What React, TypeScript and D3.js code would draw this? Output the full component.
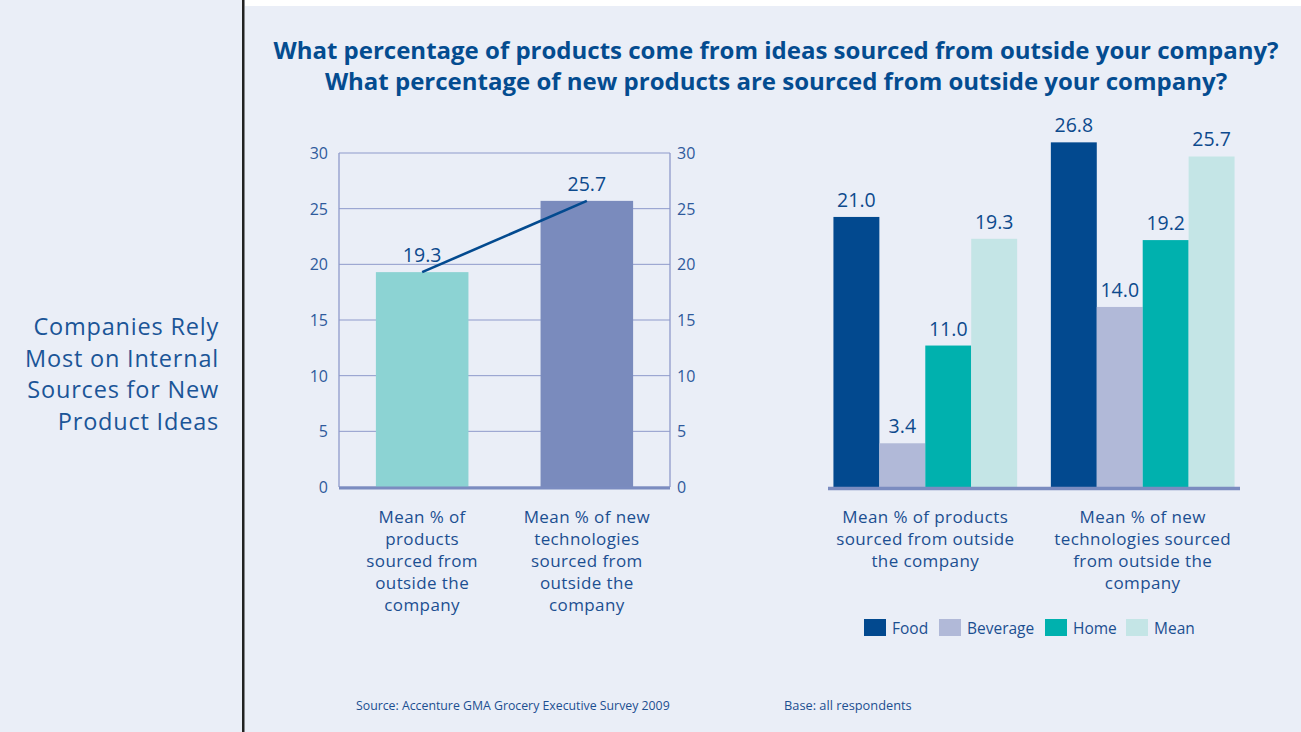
import React from "react";
import * as d3 from "d3";

const leftCategories = [
  ["Mean % of", "products", "sourced from", "outside the", "company"],
  ["Mean % of new", "technologies", "sourced from", "outside the", "company"],
];
const leftValues = [19.3, 25.7];
const leftColors = ["#8cd3d3", "#7a8bbd"];
const leftTicks = [0, 5, 10, 15, 20, 25, 30];

const rightGroups = [
  ["Mean % of products", "sourced from outside", "the company"],
  ["Mean % of new", "technologies sourced", "from outside the", "company"],
];
const seriesNames = ["Food", "Beverage", "Home", "Mean"];
const seriesColors = ["#02498f", "#b1b9d8", "#00b1ae", "#c4e5e6"];
const foodValues = [21.0, 26.8];
const beverageValues = [3.4, 14.0];
const homeValues = [11.0, 19.2];
const meanValues = [19.3, 25.7];

const titleLines = [
  "What percentage of products come from ideas sourced from outside your company?",
  "What percentage of new products are sourced from outside your company?",
];
const sideLines = ["Companies Rely", "Most on Internal", "Sources for New", "Product Ideas"];

const FONT = "'Open Sans', 'Noto Sans', sans-serif";

export default function App() {
  const W = 1301, H = 732;
  // left chart
  const lx0 = 339, lx1 = 670, ly0 = 487, ly1 = 153;
  const yL = d3.scaleLinear().domain([0, 30]).range([ly0, ly1]);
  const xL = d3.scaleBand<number>().domain([0, 1]).range([lx0, lx1]).paddingInner(0.438).paddingOuter(0.224);

  // right chart
  const rx0 = 828, rx1 = 1240, ry0 = 487;
  const yR = d3.scaleLinear().domain([0, 30]).range([ry0, ry0 - 30 * 12.86]);
  const xR = d3.scaleBand<number>().domain([0, 1]).range([rx0, rx1]).paddingInner(0.155).paddingOuter(0.025);
  const xS = d3.scaleBand<number>().domain([0, 1, 2, 3]).range([0, xR.bandwidth()]).padding(0);
  const seriesValues = [foodValues, beverageValues, homeValues, meanValues];

  const linePath = d3
    .line<number>()
    .x((_, i) => (xL(i) as number) + xL.bandwidth() / 2)
    .y((v) => yL(v))(leftValues);

  const legendX = [864, 939, 1045, 1126];

  return (
    <svg width={W} height={H} style={{ position: "absolute", left: 0, top: 0 }} fontFamily={FONT}>
      <rect x={0} y={0} width={W} height={H} fill="#eaeef7" />
      <rect x={245} y={0} width={W - 245} height={6} fill="#ffffff" />
      <rect x={242} y={0} width={2.5} height={H} fill="#222" />

      {/* side text */}
      {sideLines.map((t, i) => (
        <text key={i} x={219} y={335 + i * 31.7} textAnchor="end" fontSize={23.5} letterSpacing={0.8} fill="#1b5597">
          {t}
        </text>
      ))}

      {/* title */}
      {titleLines.map((t, i) => (
        <text key={i} x={776} y={59 + i * 31} textAnchor="middle" fontSize={24} fontWeight="bold" fill="#044c90">
          {t}
        </text>
      ))}

      {/* left chart grid */}
      {leftTicks.map((t) => (
        <g key={t}>
          <line x1={lx0} x2={lx1} y1={yL(t)} y2={yL(t)} stroke="#8e9acb" strokeWidth={1} />
          <text x={328} y={yL(t) + 6} textAnchor="end" fontSize={16} fill="#2f5a9c">
            {t}
          </text>
          <text x={677} y={yL(t) + 6} textAnchor="start" fontSize={16} fill="#2f5a9c">
            {t}
          </text>
        </g>
      ))}
      <line x1={lx0} x2={lx0} y1={ly1} y2={ly0} stroke="#8e9acb" strokeWidth={1.3} />
      <line x1={lx1} x2={lx1} y1={ly1} y2={ly0} stroke="#8e9acb" strokeWidth={1.3} />
      {leftValues.map((v, i) => (
        <rect key={i} x={xL(i)} y={yL(v)} width={xL.bandwidth()} height={ly0 - yL(v)} fill={leftColors[i]} />
      ))}
      <line x1={lx0} x2={lx1} y1={ly0 + 1} y2={ly0 + 1} stroke="#7b8cc0" strokeWidth={3} />
      <path d={linePath || ""} stroke="#034a8f" strokeWidth={2.6} fill="none" />
      {leftValues.map((v, i) => (
        <text key={i} x={(xL(i) as number) + xL.bandwidth() / 2} y={yL(v) - 10} textAnchor="middle" fontSize={19.5} fill="#0d4a8d">
          {v.toFixed(1)}
        </text>
      ))}
      {leftCategories.map((lines, i) =>
        lines.map((t, j) => (
          <text key={i + "-" + j} x={(xL(i) as number) + xL.bandwidth() / 2} y={523 + j * 22} textAnchor="middle" fontSize={17} letterSpacing={0.4} fill="#1c4f91">
            {t}
          </text>
        ))
      )}

      {/* right chart */}
      {rightGroups.map((_, g) =>
        seriesValues.map((vals, s) => {
          const x = (xR(g) as number) + (xS(s) as number);
          const v = vals[g];
          return (
            <g key={g + "-" + s}>
              <rect x={x} y={yR(v)} width={xS.bandwidth()} height={ry0 - yR(v)} fill={seriesColors[s]} />
              <text x={x + xS.bandwidth() / 2} y={yR(v) - 10} textAnchor="middle" fontSize={19.5} fill="#0d4a8d">
                {v.toFixed(1)}
              </text>
            </g>
          );
        })
      )}
      <line x1={rx0} x2={rx1} y1={ry0 + 1.5} y2={ry0 + 1.5} stroke="#7b8cc0" strokeWidth={3.5} />
      {rightGroups.map((lines, g) =>
        lines.map((t, j) => (
          <text key={g + "-" + j} x={(xR(g) as number) + xR.bandwidth() / 2} y={523 + j * 22} textAnchor="middle" fontSize={17} letterSpacing={0.4} fill="#1c4f91">
            {t}
          </text>
        ))
      )}

      {/* legend */}
      {seriesNames.map((n, i) => (
        <g key={n}>
          <rect x={legendX[i]} y={619} width={22} height={17} fill={seriesColors[i]} />
          <text x={legendX[i] + 28} y={634} fontSize={15.5} fill="#1c4f91">
            {n}
          </text>
        </g>
      ))}

      {/* footer */}
      <text x={356} y={710} fontSize={12.3} fill="#1c4f91">
        Source: Accenture GMA Grocery Executive Survey 2009
      </text>
      <text x={784} y={710} fontSize={12.8} fill="#1c4f91">
        Base: all respondents
      </text>
    </svg>
  );
}
